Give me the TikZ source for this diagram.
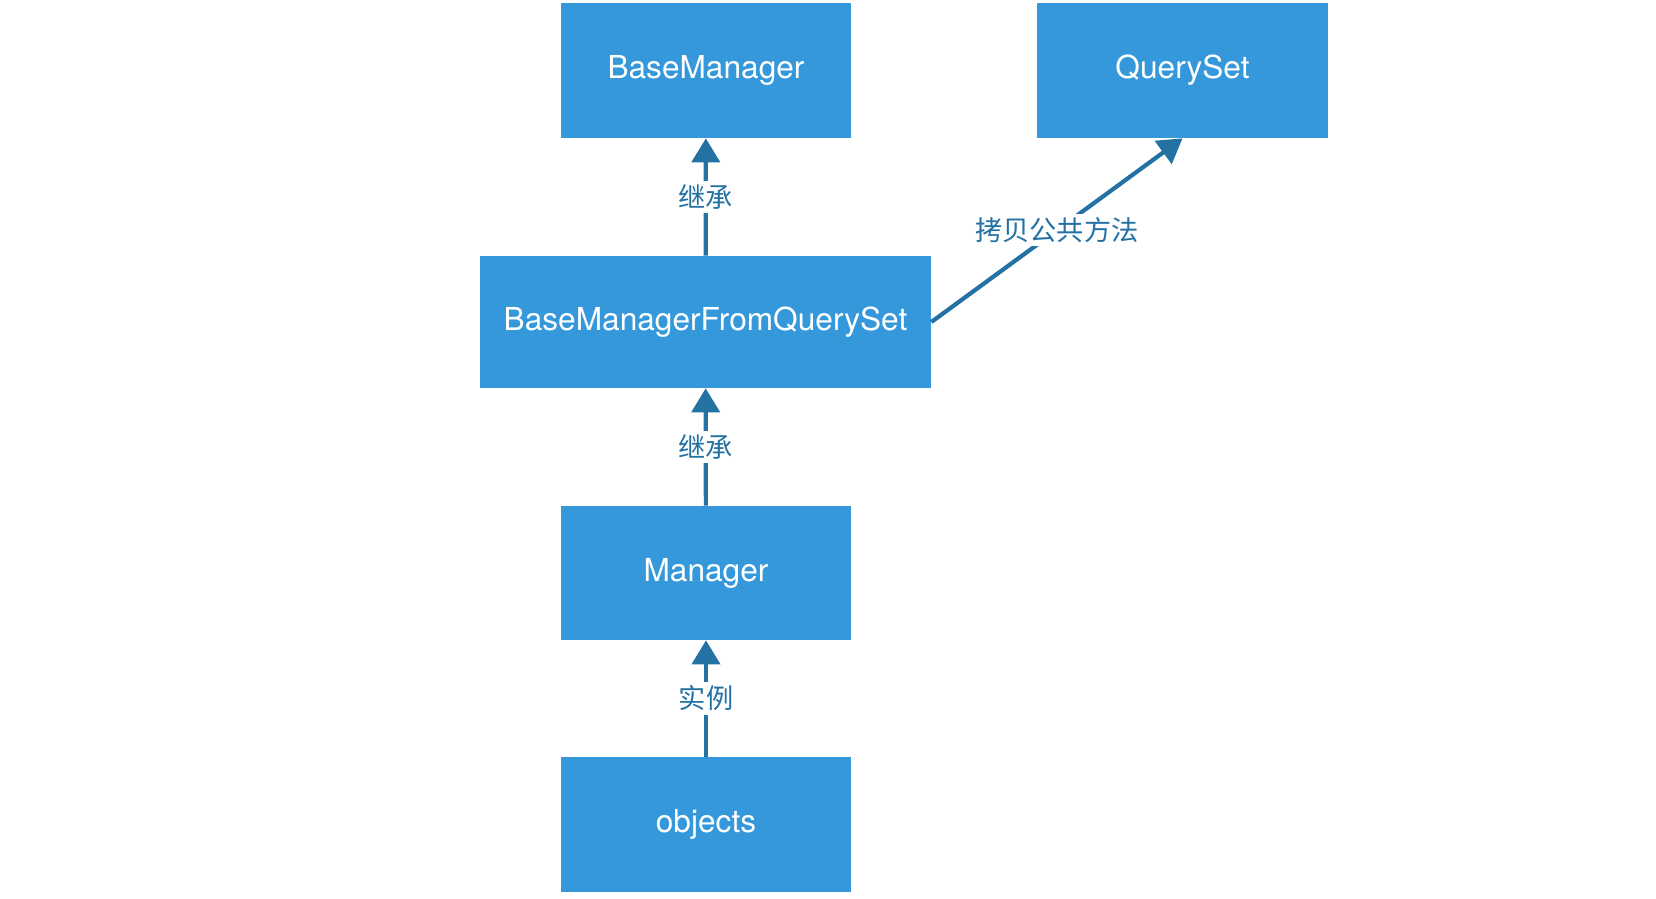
\documentclass[tikz,border=0pt]{standalone}
\usepackage{fontspec}
\setmainfont{TeX Gyre Heros}
\newfontfamily\cjk{Noto Sans CJK SC}
\usepackage{xcolor}
\definecolor{caixa}{RGB}{52,152,219}
\definecolor{seta}{RGB}{36,113,163}
\usepackage{tikz}
\usetikzlibrary{arrows.meta, positioning}

\begin{document}
\begin{tikzpicture}[
    cls/.style={rectangle, fill=caixa, text=white, minimum width=5.8cm,
                minimum height=2.7cm, inner sep=0pt, font=\fontsize{18}{20}\selectfont},
    rel/.style={-{Triangle[length=0.48cm, width=0.56cm]}, seta, line width=2.4pt},
    lbl/.style={fill=white, text=seta, inner sep=2pt,
                font=\cjk\fontsize{15.5}{17}\selectfont}
  ]
  \useasboundingbox (0,0) rectangle (33.12,-17.96);

  % Top row
  \node[cls] (base) at (14.12,-1.41) {BaseManager};
  \node[cls, minimum width=5.82cm] (qs) at (23.65,-1.41) {QuerySet};

  % Middle
  \node[cls, minimum width=9.02cm, minimum height=2.64cm] (bmfqs) at (14.11,-6.44)
    {BaseManagerFromQuerySet};
  \node[cls, minimum height=2.68cm] (mgr) at (14.12,-11.46) {Manager};

  % Bottom
  \node[cls] (obj) at (14.12,-16.49) {objects};

  % Relations
  \draw[rel] (bmfqs) -- (base) node[lbl, midway] {继承};
  \draw[rel] (mgr) -- (bmfqs) node[lbl, midway] {继承};
  \draw[rel] (obj) -- (mgr) node[lbl, midway] {实例};
  \draw[rel] (bmfqs.east) -- (qs.south) node[lbl, midway] {拷贝公共方法};
\end{tikzpicture}
\end{document}
